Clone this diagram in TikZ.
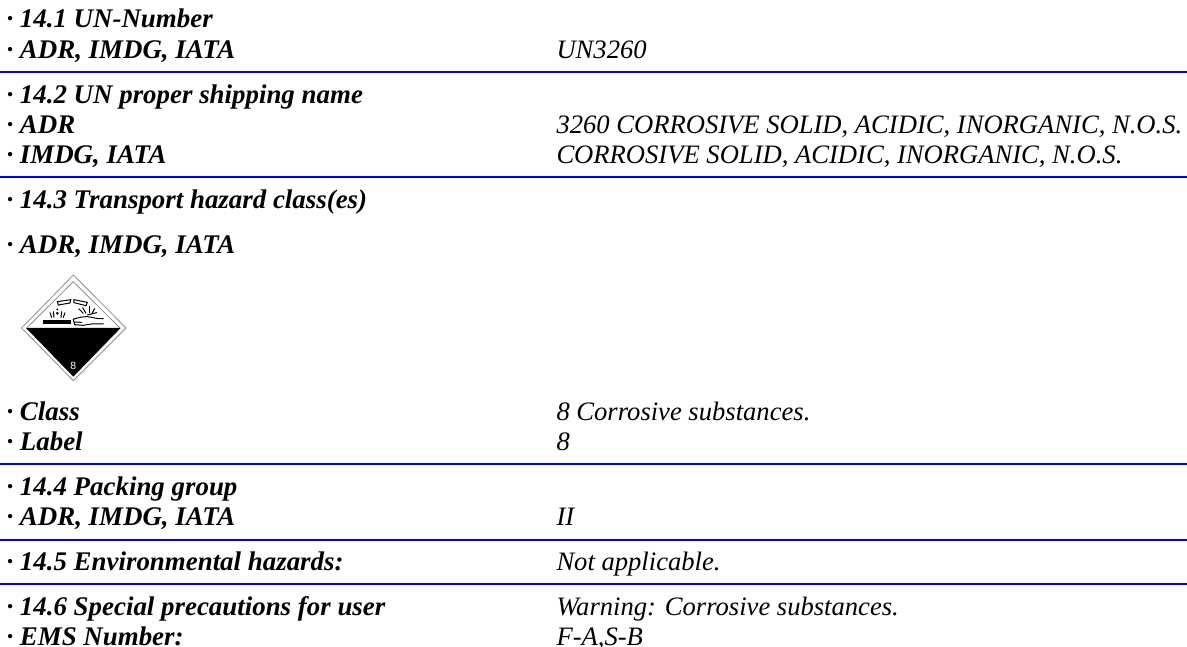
\documentclass[tikz,border=0pt]{standalone}
\usepackage{fontspec}
\setmainfont{Liberation Serif}
\newfontfamily\pictofont{Liberation Sans}
\definecolor{rulecol}{RGB}{0,0,255}
\definecolor{edgegray}{RGB}{140,140,140}
\tikzset{x=1pt,y=-1pt,
 lab/.style={anchor=base west,inner sep=0pt,outer sep=0pt,font=\fontsize{26.9}{27}\selectfont\bfseries\itshape},
 val/.style={anchor=base west,inner sep=0pt,outer sep=0pt,font=\fontsize{26.6}{27}\selectfont\itshape},
 sep/.style={draw=rulecol,line width=2pt},
 picline/.style={draw=black,line width=1pt,line cap=round},
 diamondline/.style={draw=edgegray,line width=0.8pt,line join=miter}}
\newcommand{\dotp}{\textperiodcentered\ }
\begin{document}
\begin{tikzpicture}
\useasboundingbox (0,0) rectangle (1187,647);
% section 14.1
\node[lab] (a1) at (6.5,28) {\dotp 14.1 UN-Number};
\node[lab] (a2) at (6.5,58.5) {\dotp ADR, IMDG, IATA};
\node[val] (v2) at (556.5,58.5) {UN3260};
\coordinate (r1a) at (0,72.5); \coordinate (r1b) at (1187,72.5);
\draw[sep] (r1a) -- (r1b);
% section 14.2
\node[lab] (b1) at (6.5,104) {\dotp 14.2 UN proper shipping name};
\node[lab] (b2) at (6.5,134) {\dotp ADR};
\node[val] (w2) at (556.5,134) {3260 CORROSIVE SOLID, ACIDIC, INORGANIC, N.O.S.};
\node[lab] (b3) at (6.5,164) {\dotp IMDG, IATA};
\node[val] (w3) at (556.5,164) {CORROSIVE SOLID, ACIDIC, INORGANIC, N.O.S.};
\coordinate (r2a) at (0,177.5); \coordinate (r2b) at (1187,177.5);
\draw[sep] (r2a) -- (r2b);
% section 14.3
\node[lab] (c1) at (6.5,209) {\dotp 14.3 Transport hazard class(es)};
\node[lab] (c2) at (6.5,254) {\dotp ADR, IMDG, IATA};
% pictogram
\begin{scope}[shift={(0,260)},x=0.3333pt,y=-0.3333pt]
 \draw[diamondline] (220,45) -- (378,204) -- (220,362) -- (65,204) -- cycle;
 \draw[diamondline] (80,204) -- (220,65) -- (360,204);
 \fill[black] (78,204) -- (362,204) -- (220,350) -- cycle;
 \node[text=white,font=\pictofont\fontsize{10.5}{10.5}\selectfont,inner sep=0pt] (eight) at (220,319) {8};
 % test tubes
 \draw[picline] (172,125) -- (212,119) -- (210,129) -- (175,135) -- cycle;
 \draw[picline] (222,119) -- (262,127) -- (258,137) -- (222,128) -- cycle;
 % bar under left tube
 \fill[black] (130,180) rectangle (212,193);
 % drops and fumes left
 \fill (172,148) circle (3); \fill (172,160) circle (4.5);
 \draw[picline] (155,172) -- (150,158); \draw[picline] (162,172) -- (160,155);
 \draw[picline] (183,172) -- (185,155); \draw[picline] (190,172) -- (195,158);
 % drops and fumes right
 \draw[picline] (250,160) -- (236,146); \draw[picline] (258,160) -- (248,143);
 \draw[picline] (268,158) -- (268,140); \draw[picline] (276,160) -- (284,146);
 \draw[picline] (262,165) -- (290,158);
 % hand
 \draw[picline] (220,178) .. controls (235,172) and (250,170) .. (262,170) .. controls (280,172) and (295,178) .. (310,176);
 \draw[picline] (220,178) -- (222,186) -- (245,187);
 \draw[picline] (222,187) -- (224,194) -- (250,196) -- (275,192) -- (310,192);
\end{scope}
\node[lab] (c3) at (6.5,420) {\dotp Class};
\node[val] (x3) at (556.5,420) {8 Corrosive substances.};
\node[lab] (c4) at (6.5,450) {\dotp Label};
\node[val] (x4) at (556.5,450) {8};
\coordinate (r3a) at (0,463.5); \coordinate (r3b) at (1187,463.5);
\draw[sep] (r3a) -- (r3b);
% section 14.4
\node[lab] (d1) at (6.5,495) {\dotp 14.4 Packing group};
\node[lab] (d2) at (6.5,525) {\dotp ADR, IMDG, IATA};
\node[val] (y2) at (556.5,525) {II};
\coordinate (r4a) at (0,539.5); \coordinate (r4b) at (1187,539.5);
\draw[sep] (r4a) -- (r4b);
% section 14.5
\node[lab] (e1) at (6.5,570) {\dotp 14.5 Environmental hazards:};
\node[val] (z1) at (556.5,570) {Not applicable.};
\coordinate (r5a) at (0,583.5); \coordinate (r5b) at (1187,583.5);
\draw[sep] (r5a) -- (r5b);
% section 14.6
\node[lab] (f1) at (6.5,615) {\dotp 14.6 Special precautions for user};
\node[val] (u1) at (556.5,615) {Warning: Corrosive substances.};
\node[lab] (f2) at (6.5,645) {\dotp EMS Number:};
\node[val] (u2) at (556.5,645) {F-A,S-B};
\end{tikzpicture}
\end{document}
